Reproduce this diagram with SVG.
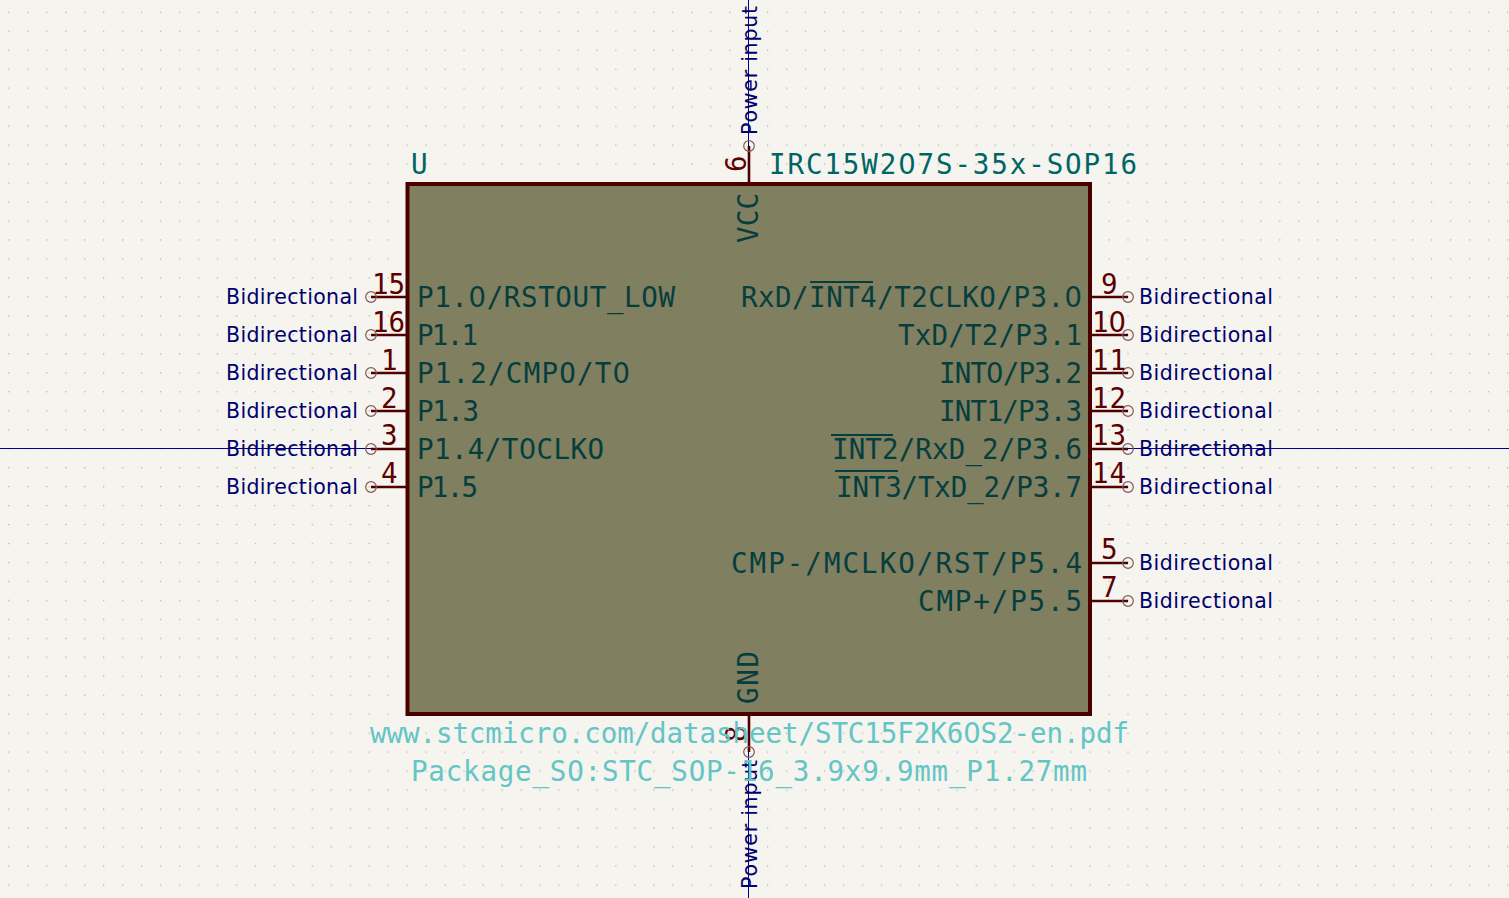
<svg xmlns="http://www.w3.org/2000/svg" width="1509" height="898" viewBox="0 0 1509 898">
<defs>
<style>
text{font-family:"DejaVu Sans Mono",monospace}
.z{font-family:"DejaVu Sans",sans-serif}
.name{font-size:27.5px;fill:#063e3e}
.num{font-size:27.5px;fill:#5c0000}
.type{font-family:"DejaVu Sans",sans-serif;font-size:20.5px;fill:#00006e}
.val{font-size:27.5px;fill:#006464}
.doc{font-size:27.5px;fill:#63c5c5}
.pin{stroke:#4f0000;stroke-width:2.6;fill:none}
.dot{stroke:#845a5a;stroke-width:1.2;fill:none}
.ol{stroke:#063e3e;stroke-width:1.8}
.cross{stroke:#000090;stroke-width:1}
</style>
<pattern id="grid" width="18.97" height="18.97" patternUnits="userSpaceOnUse" x="8.17" y="11.69">
<rect x="0" y="0" width="1.3" height="1.3" fill="#b4b4b0"/>
</pattern>
</defs>
<rect width="1509" height="898" fill="#f5f4ef"/>
<rect width="1509" height="898" fill="url(#grid)"/>
<g id="crosshair"><line class="cross" x1="0" y1="448.500" x2="1509" y2="448.500"/><line class="cross" x1="748.500" y1="0" x2="748.500" y2="898"/></g>
<g id="connectors">
<path class="pin" d="M371 297H407M371 335H407M371 373H407M371 411H407M371 449H407M371 487H407M1090 297H1128M1090 335H1128M1090 373H1128M1090 411H1128M1090 449H1128M1090 487H1128M1090 563H1128M1090 601H1128M749 146V184M749 714V752"/>
</g>
<g id="U">
<rect x="407.500" y="184" width="682.500" height="530" fill="#807f60" stroke="#4b0000" stroke-width="4"/>
<text class="name" x="417" y="307" textLength="258">P1.<tspan class="z">0</tspan>/RSTOUT_LOW</text>
<text class="name" x="417" y="345" textLength="61">P1.1</text>
<text class="name" x="417" y="383" textLength="213">P1.2/CMPO/T<tspan class="z">0</tspan></text>
<text class="name" x="417" y="421" textLength="62">P1.3</text>
<text class="name" x="417" y="459" textLength="187">P1.4/T<tspan class="z">0</tspan>CLKO</text>
<text class="name" x="417" y="497" textLength="61">P1.5</text>
<text class="name" x="741" y="307" textLength="341">RxD/INT4/T2CLKO/P3.<tspan class="z">0</tspan></text>
<line class="ol" x1="810" y1="282" x2="873" y2="282"/>
<text class="name" x="898" y="345" textLength="184">TxD/T2/P3.1</text>
<text class="name" x="939" y="383" textLength="143">INT<tspan class="z">0</tspan>/P3.2</text>
<text class="name" x="939" y="421" textLength="143">INT1/P3.3</text>
<text class="name" x="832" y="459" textLength="250">INT2/RxD_2/P3.6</text>
<line class="ol" x1="831" y1="435" x2="893" y2="435"/>
<text class="name" x="836" y="497" textLength="246">INT3/TxD_2/P3.7</text>
<line class="ol" x1="835" y1="471" x2="898" y2="471"/>
<text class="name" x="731" y="573" textLength="351">CMP-/MCLKO/RST/P5.4</text>
<text class="name" x="918" y="611" textLength="164">CMP+/P5.5</text>
<text class="name" transform="translate(758 243) rotate(-90)" textLength="50">VCC</text>
<text class="name" transform="translate(758 704) rotate(-90)" textLength="53">GND</text>
<text class="val" x="411" y="174" textLength="15">U</text>
<text class="val" x="769" y="174" textLength="368">IRC15W2<tspan class="z">0</tspan>7S-35x-SOP16</text>
</g>
<g id="pin-15"><circle class="dot" cx="371" cy="297" r="5.300"/><text class="num" x="372" y="294" textLength="33">15</text><text class="type" x="226" y="304" textLength="132">Bidirectional</text></g>
<g id="pin-16"><circle class="dot" cx="371" cy="335" r="5.300"/><text class="num" x="372" y="332" textLength="33">16</text><text class="type" x="226" y="342" textLength="132">Bidirectional</text></g>
<g id="pin-1"><circle class="dot" cx="371" cy="373" r="5.300"/><text class="num" x="381" y="370" textLength="15">1</text><text class="type" x="226" y="380" textLength="132">Bidirectional</text></g>
<g id="pin-2"><circle class="dot" cx="371" cy="411" r="5.300"/><text class="num" x="381" y="408" textLength="16">2</text><text class="type" x="226" y="418" textLength="132">Bidirectional</text></g>
<g id="pin-3"><circle class="dot" cx="371" cy="449" r="5.300"/><text class="num" x="381" y="445" textLength="16">3</text><text class="type" x="226" y="456" textLength="132">Bidirectional</text></g>
<g id="pin-4"><circle class="dot" cx="371" cy="487" r="5.300"/><text class="num" x="381" y="483" textLength="16">4</text><text class="type" x="226" y="494" textLength="132">Bidirectional</text></g>
<g id="pin-9"><circle class="dot" cx="1128" cy="297" r="5.300"/><text class="num" x="1101" y="294" textLength="15">9</text><text class="type" x="1139" y="304" textLength="134">Bidirectional</text></g>
<g id="pin-10"><circle class="dot" cx="1128" cy="335" r="5.300"/><text class="num" x="1092" y="332" textLength="34">1<tspan class="z">0</tspan></text><text class="type" x="1139" y="342" textLength="134">Bidirectional</text></g>
<g id="pin-11"><circle class="dot" cx="1128" cy="373" r="5.300"/><text class="num" x="1092" y="370" textLength="34">11</text><text class="type" x="1139" y="380" textLength="134">Bidirectional</text></g>
<g id="pin-12"><circle class="dot" cx="1128" cy="411" r="5.300"/><text class="num" x="1092" y="408" textLength="34">12</text><text class="type" x="1139" y="418" textLength="134">Bidirectional</text></g>
<g id="pin-13"><circle class="dot" cx="1128" cy="449" r="5.300"/><text class="num" x="1092" y="445" textLength="34">13</text><text class="type" x="1139" y="456" textLength="134">Bidirectional</text></g>
<g id="pin-14"><circle class="dot" cx="1128" cy="487" r="5.300"/><text class="num" x="1092" y="483" textLength="34">14</text><text class="type" x="1139" y="494" textLength="134">Bidirectional</text></g>
<g id="pin-5"><circle class="dot" cx="1128" cy="563" r="5.300"/><text class="num" x="1101" y="559" textLength="16">5</text><text class="type" x="1139" y="570" textLength="134">Bidirectional</text></g>
<g id="pin-7"><circle class="dot" cx="1128" cy="601" r="5.300"/><text class="num" x="1101" y="597" textLength="16">7</text><text class="type" x="1139" y="608" textLength="134">Bidirectional</text></g>
<g id="pin-6"><circle class="dot" cx="749" cy="146" r="5.300"/><text class="num" transform="translate(746 172) rotate(-90)" textLength="17">6</text><text class="type" transform="translate(756.500 135) rotate(-90)" textLength="129">Power input</text></g>
<g id="pin-8"><circle class="dot" cx="749" cy="752" r="5.300"/><text class="num" transform="translate(746 742) rotate(-90)" textLength="17">8</text><text class="type" transform="translate(756.500 889) rotate(-90)" textLength="129">Power input</text></g>
<g id="fields">
<text class="doc" x="370" y="743" textLength="759">www.stcmicro.com/datasheet/STC15F2K6<tspan class="z">0</tspan>S2-en.pdf</text>
<text class="doc" x="411" y="781" textLength="676">Package_SO:STC_SOP-16_3.9x9.9mm_P1.27mm</text>
</g>
</svg>
